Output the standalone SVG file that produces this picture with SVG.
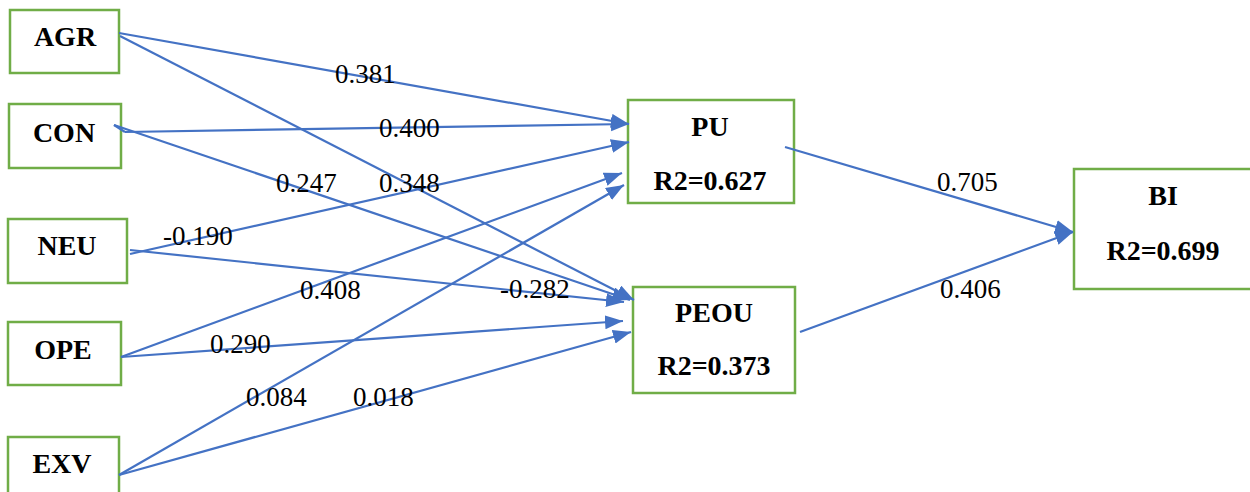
<svg xmlns="http://www.w3.org/2000/svg" width="1250" height="492" viewBox="0 0 1250 492">
  <style>
    .box { fill: #ffffff; stroke: #70AD47; stroke-width: 2.5; }
    .name { font-family: "Liberation Serif", "Times New Roman", serif; font-weight: bold; font-size: 28px; fill: #000000; text-anchor: middle; }
    .edge { stroke: #4472C4; stroke-width: 2.2; fill: none; marker-end: url(#arrow); }
    .plain { stroke: #4472C4; stroke-width: 2.2; fill: none; }
    .coef { font-family: "Liberation Serif", "Times New Roman", serif; font-size: 27px; fill: #000000; }
  </style>
  <defs>
    <marker id="arrow" markerUnits="userSpaceOnUse" markerWidth="19" markerHeight="15" refX="18" refY="7" orient="auto">
      <path d="M0,0 L18,7 L0,14 z" fill="#4472C4"/>
    </marker>
  </defs>

  <rect width="1250" height="492" fill="#ffffff"/>

  <!-- exogenous constructs -->
  <g id="AGR">
    <rect class="box" x="10" y="10" width="109" height="63"/>
    <text class="name" x="65" y="46">AGR</text>
  </g>
  <g id="CON">
    <rect class="box" x="9" y="104" width="112" height="64"/>
    <text class="name" x="64" y="142">CON</text>
  </g>
  <g id="NEU">
    <rect class="box" x="8" y="219" width="119" height="64"/>
    <text class="name" x="67" y="255">NEU</text>
  </g>
  <g id="OPE">
    <rect class="box" x="8" y="322" width="113" height="63"/>
    <text class="name" x="63" y="359">OPE</text>
  </g>
  <g id="EXV">
    <rect class="box" x="8" y="437" width="111" height="70"/>
    <text class="name" x="62" y="473">EXV</text>
  </g>

  <!-- mediators and outcome -->
  <g id="PU">
    <rect class="box" x="628" y="100" width="166" height="103"/>
    <text class="name" x="710" y="136">PU</text>
    <text class="name" x="710" y="190">R2=0.627</text>
  </g>
  <g id="PEOU">
    <rect class="box" x="633" y="287" width="162" height="106"/>
    <text class="name" x="714" y="322">PEOU</text>
    <text class="name" x="714" y="375">R2=0.373</text>
  </g>
  <g id="BI">
    <rect class="box" x="1074" y="169" width="184" height="120"/>
    <text class="name" x="1163" y="205">BI</text>
    <text class="name" x="1163" y="260">R2=0.699</text>
  </g>

  <!-- paths -->
  <g id="connectors">
    <line class="edge" x1="119" y1="33" x2="629" y2="124"/>
    <line class="edge" x1="125" y1="132" x2="629" y2="124"/>
    <line class="plain" x1="114" y1="125" x2="125" y2="132"/>
    <line class="edge" x1="120" y1="36" x2="634" y2="300"/>
    <line class="edge" x1="114" y1="125" x2="630" y2="300"/>
    <line class="edge" x1="130" y1="254" x2="629" y2="142"/>
    <line class="edge" x1="130" y1="250" x2="624" y2="302"/>
    <line class="edge" x1="121" y1="357" x2="622" y2="173"/>
    <line class="edge" x1="121" y1="357" x2="623" y2="321"/>
    <line class="edge" x1="119" y1="475" x2="624" y2="185"/>
    <line class="edge" x1="119" y1="475" x2="631" y2="332"/>
    <line class="edge" x1="785" y1="147" x2="1073" y2="232"/>
    <line class="edge" x1="800" y1="332" x2="1073" y2="232"/>
  </g>

  <!-- path coefficients -->
  <g id="coefficients">
    <text class="coef" x="335" y="83">0.381</text>
    <text class="coef" x="379" y="137">0.400</text>
    <text class="coef" x="276" y="192">0.247</text>
    <text class="coef" x="379" y="192">0.348</text>
    <text class="coef" x="163" y="245">-0.190</text>
    <text class="coef" x="300" y="299">0.408</text>
    <text class="coef" x="500" y="298">-0.282</text>
    <text class="coef" x="210" y="353">0.290</text>
    <text class="coef" x="246" y="406">0.084</text>
    <text class="coef" x="353" y="406">0.018</text>
    <text class="coef" x="937" y="191">0.705</text>
    <text class="coef" x="940" y="298">0.406</text>
  </g>
</svg>
